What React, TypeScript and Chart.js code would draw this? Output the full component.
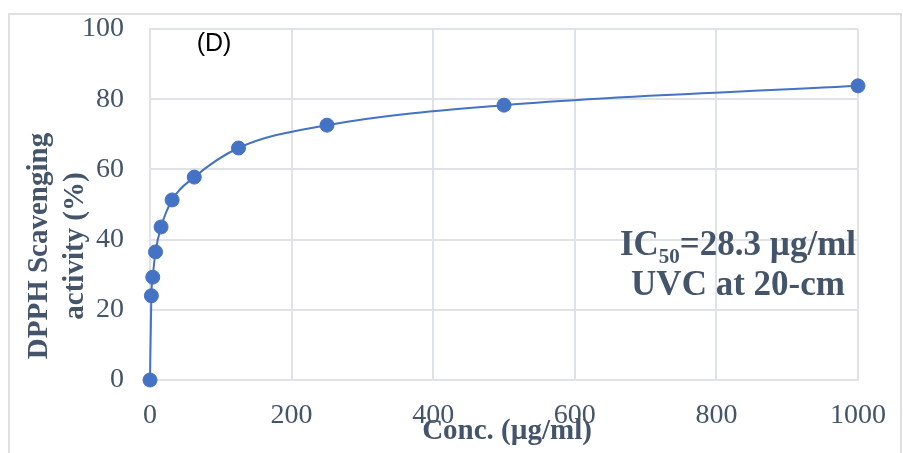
import React, { useEffect, useRef } from 'react';
import { Chart, registerables } from 'chart.js';

Chart.register(...registerables);

// Data
const concentrations = [0, 1.95, 3.9, 7.81, 15.63, 31.25, 62.5, 125, 250, 500, 1000];
const scavenging = [0, 24.0, 29.3, 36.5, 43.6, 51.3, 57.8, 66.1, 72.6, 78.3, 83.8];
const xTickValues = [0, 200, 400, 600, 800, 1000];
const yTickValues = [0, 20, 40, 60, 80, 100];

const panelLabel = '(D)';
const yTitleLines = ['DPPH Scavenging', 'activity (%)'];
const xTitle = 'Conc. (µg/ml)';
const icMain = 'IC';
const icSub = '50';
const icRest = '=28.3 µg/ml';
const noteLine2 = 'UVC at 20-cm';

const TEXT = '#44546A';
const GRID = '#dfe3e8';
const BLUE = '#4472C4';
const SERIF = '"Liberation Serif", "Times New Roman", serif';

const framePlugin = {
  id: 'frame',
  beforeDraw(chart: any) {
    const { ctx, width, height } = chart;
    ctx.save();
    ctx.strokeStyle = '#dde1e6';
    ctx.lineWidth = 2;
    ctx.beginPath();
    ctx.moveTo(1, height + 5);
    ctx.lineTo(1, 1);
    ctx.lineTo(width - 1, 1);
    ctx.lineTo(width - 1, height + 5);
    ctx.stroke();
    ctx.restore();
  },
};

const textPlugin = {
  id: 'texts',
  afterDraw(chart: any) {
    const { ctx } = chart;
    ctx.save();
    // panel label
    ctx.fillStyle = '#000000';
    ctx.font = '25px "Liberation Sans", Arial, sans-serif';
    ctx.textAlign = 'center';
    ctx.textBaseline = 'middle';
    ctx.fillText(panelLabel, 206, 31);

    // y axis title
    ctx.fillStyle = TEXT;
    ctx.font = `bold 29px ${SERIF}`;
    ctx.save();
    ctx.translate(32, 233);
    ctx.rotate(-Math.PI / 2);
    ctx.textAlign = 'center';
    ctx.textBaseline = 'middle';
    ctx.fillText(yTitleLines[0], 0, 0);
    ctx.fillText(yTitleLines[1], 0, 36);
    ctx.restore();

    // x axis title
    ctx.font = `bold 29px ${SERIF}`;
    ctx.textAlign = 'center';
    ctx.textBaseline = 'alphabetic';
    ctx.fillText(xTitle, 499, 426);

    // annotation
    const cx = 730;
    const big = `bold 35px ${SERIF}`;
    const small = `bold 21px ${SERIF}`;
    ctx.font = big;
    const w1 = ctx.measureText(icMain).width;
    const w3 = ctx.measureText(icRest).width;
    ctx.font = small;
    const w2 = ctx.measureText(icSub).width;
    const total = w1 + w2 + w3;
    let x = cx - total / 2;
    ctx.textAlign = 'left';
    ctx.font = big;
    ctx.fillText(icMain, x, 242);
    x += w1;
    ctx.font = small;
    ctx.fillText(icSub, x, 250);
    x += w2;
    ctx.font = big;
    ctx.fillText(icRest, x, 242);
    ctx.textAlign = 'center';
    ctx.fillText(noteLine2, cx, 282);
    ctx.restore();
  },
};

export default function App() {
  const ref = useRef<HTMLCanvasElement | null>(null);

  useEffect(() => {
    document.body.style.overflow = 'hidden';
    const canvas = ref.current;
    if (!canvas) return;
    const points = concentrations.map((c, i) => ({ x: c, y: scavenging[i] }));
    const chart = new Chart(canvas, {
      type: 'line',
      data: {
        datasets: [
          {
            data: points,
            borderColor: BLUE,
            backgroundColor: BLUE,
            borderWidth: 2,
            pointRadius: 7,
            pointBackgroundColor: BLUE,
            pointBorderColor: BLUE,
            pointBorderWidth: 1,
            cubicInterpolationMode: 'monotone',
            fill: false,
            clip: false,
          },
        ],
      },
      options: {
        animation: false,
        responsive: false,
        devicePixelRatio: 1,
        layout: { padding: { top: 16, right: 44, left: 0, bottom: 0 } },
        plugins: { legend: { display: false }, tooltip: { enabled: false }, title: { display: false } },
        scales: {
          x: {
            type: 'linear',
            min: 0,
            max: 1000,
            afterBuildTicks: (scale: any) => {
              scale.ticks = xTickValues.map((v) => ({ value: v }));
            },
            afterFit: (scale: any) => {
              scale.height = 73;
              scale.paddingLeft = 0;
              scale.paddingRight = 0;
              scale.paddingTop = 0;
              scale.paddingBottom = 0;
            },
            ticks: {
              color: TEXT,
              font: { family: SERIF, size: 28 },
              padding: 19,
              maxRotation: 0,
              callback: (v: any) => String(v),
            },
            grid: { color: GRID, lineWidth: 2, drawTicks: false },
            border: { display: true, color: GRID, width: 2 },
          },
          y: {
            type: 'linear',
            min: 0,
            max: 100,
            afterBuildTicks: (scale: any) => {
              scale.ticks = yTickValues.map((v) => ({ value: v }));
            },
            afterFit: (scale: any) => {
              scale.width = 142;
              scale.paddingLeft = 0;
              scale.paddingRight = 0;
              scale.paddingTop = 0;
              scale.paddingBottom = 0;
            },
            ticks: {
              color: TEXT,
              font: { family: SERIF, size: 28 },
              padding: 26,
              callback: (v: any) => String(v),
            },
            grid: { color: GRID, lineWidth: 2, drawTicks: false },
            border: { display: true, color: GRID, width: 2 },
          },
        },
      },
      plugins: [framePlugin, textPlugin],
    });
    return () => chart.destroy();
  }, []);

  return (
    <div style={{ position: 'fixed', left: 8, top: 13, width: 894, height: 440 }}>
      <canvas ref={ref} width={894} height={440} style={{ display: 'block' }} />
    </div>
  );
}
